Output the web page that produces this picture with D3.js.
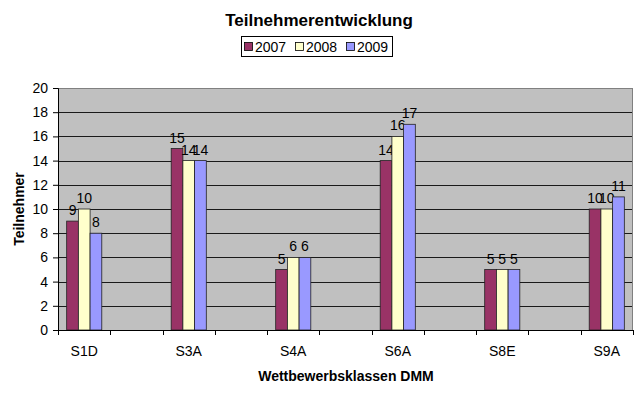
<!DOCTYPE html>
<html>
<head>
<meta charset="utf-8">
<script src="https://cdnjs.cloudflare.com/ajax/libs/d3/7.8.5/d3.min.js"></script>
<style>
  body { margin: 0; background: #fff; }
  svg { font-family: "Liberation Sans", Arial, sans-serif; }
</style>
</head>
<body>
<svg id="chart" width="640" height="396"></svg>
<script>
var categories = ["S1D", "S3A", "S4A", "S6A", "S8E", "S9A"];
var years = ["2007", "2008", "2009"];
var values2007 = [9, 15, 5, 14, 5, 10];
var values2008 = [10, 14, 6, 16, 5, 10];
var values2009 = [8, 14, 6, 17, 5, 11];
var yTicks = [0, 2, 4, 6, 8, 10, 12, 14, 16, 18, 20];
var colors = ["#993366", "#FFFFCC", "#9999FF"];

var series = [values2007, values2008, values2009];
var font = "'Liberation Sans', Arial, sans-serif";

var svg = d3.select("#chart");
var plotLeft = 58, plotRight = 633, plotTop = 88, plotBottom = 330;

var x = d3.scalePoint().domain(categories).range([plotLeft, plotRight]).padding(0.251);
var step = x.step();
var inner = d3.scaleBand().domain(years).range([-step * 0.168, step * 0.168]);
var y = d3.scaleLinear().domain([0, 20]).range([plotBottom, plotTop]);

// plot area
svg.append("rect")
  .attr("x", plotLeft).attr("y", plotTop)
  .attr("width", plotRight - plotLeft).attr("height", plotBottom - plotTop)
  .attr("fill", "#c0c0c0");

// grid
svg.append("g").selectAll("line")
  .data(yTicks.filter(function(t) { return t > 0 && t < 20; }))
  .enter().append("line")
  .attr("x1", plotLeft).attr("x2", plotRight)
  .attr("y1", function(d) { return Math.round(y(d)) + 0.5; })
  .attr("y2", function(d) { return Math.round(y(d)) + 0.5; })
  .attr("stroke", "#1a1a1a").attr("stroke-width", 1);

svg.append("rect")
  .attr("x", plotLeft + 0.5).attr("y", plotTop + 0.5)
  .attr("width", plotRight - plotLeft - 1).attr("height", plotBottom - plotTop)
  .attr("fill", "none").attr("stroke", "#808080").attr("stroke-width", 1);

// bars
var groups = svg.append("g").selectAll("g")
  .data(years).enter().append("g")
  .attr("fill", function(d, i) { return colors[i]; });

function rows(yr, i) {
  return series[i].map(function(v, j) { return { cat: categories[j], v: v, yr: yr }; });
}

groups.selectAll("rect")
  .data(rows)
  .enter().append("rect")
  .attr("x", function(d) { return x(d.cat) + inner(d.yr); })
  .attr("y", function(d) { return y(d.v); })
  .attr("width", inner.bandwidth())
  .attr("height", function(d) { return plotBottom - y(d.v); })
  .attr("stroke", "#222").attr("stroke-width", 0.8);

// value labels
groups.selectAll("text")
  .data(rows)
  .enter().append("text")
  .attr("x", function(d) { return x(d.cat) + inner(d.yr) + inner.bandwidth() / 2; })
  .attr("y", function(d) { return y(d.v) - 6; })
  .attr("text-anchor", "middle")
  .attr("fill", "#000")
  .attr("font-size", 14)
  .text(function(d) { return d.v; });

// y axis
var yAxis = svg.append("g")
  .attr("transform", "translate(" + plotLeft + ",0)")
  .call(d3.axisLeft(y).tickValues(yTicks).tickSize(5).tickPadding(5));
yAxis.select(".domain").attr("stroke", "#000");
yAxis.selectAll("line").attr("stroke", "#000");
yAxis.selectAll("text").attr("font-size", 14).attr("fill", "#000").attr("font-family", font);

// x axis
var xg = svg.append("g");
xg.append("line").attr("x1", plotLeft).attr("x2", plotRight)
  .attr("y1", plotBottom + 0.5).attr("y2", plotBottom + 0.5).attr("stroke", "#000");
var tickXs = [];
categories.forEach(function(c) { tickXs.push(x(c) - step / 4); tickXs.push(x(c) + step / 4); });
xg.selectAll(".xt").data(tickXs).enter().append("line")
  .attr("x1", function(d) { return Math.round(d) + 0.5; })
  .attr("x2", function(d) { return Math.round(d) + 0.5; })
  .attr("y1", plotBottom).attr("y2", plotBottom + 5)
  .attr("stroke", "#000");
xg.selectAll(".xl").data(categories).enter().append("text")
  .attr("x", function(d) { return x(d); })
  .attr("y", 356)
  .attr("text-anchor", "middle")
  .attr("font-size", 14)
  .text(function(d) { return d; });

// titles
svg.append("text").attr("x", 319).attr("y", 26)
  .attr("text-anchor", "middle").attr("font-size", 17).attr("font-weight", "bold")
  .text("Teilnehmerentwicklung");
svg.append("text").attr("x", 346).attr("y", 381)
  .attr("text-anchor", "middle").attr("font-size", 14).attr("font-weight", "bold")
  .text("Wettbewerbsklassen DMM");
svg.append("text")
  .attr("transform", "translate(24,209) rotate(-90)")
  .attr("text-anchor", "middle").attr("font-size", 14).attr("font-weight", "bold")
  .text("Teilnehmer");

// legend
var legend = svg.append("g");
legend.append("rect").attr("x", 241.5).attr("y", 36.5).attr("width", 151).attr("height", 20)
  .attr("fill", "#fff").attr("stroke", "#000");
var lx = [244, 295, 346];
years.forEach(function(yr, i) {
  legend.append("rect").attr("x", lx[i] + 0.5).attr("y", 42.5).attr("width", 8).attr("height", 8)
    .attr("fill", colors[i]).attr("stroke", "#000").attr("stroke-width", 0.8);
  legend.append("text").attr("x", lx[i] + 11).attr("y", 52)
    .attr("font-size", 14).text(yr);
});
</script>
</body>
</html>
